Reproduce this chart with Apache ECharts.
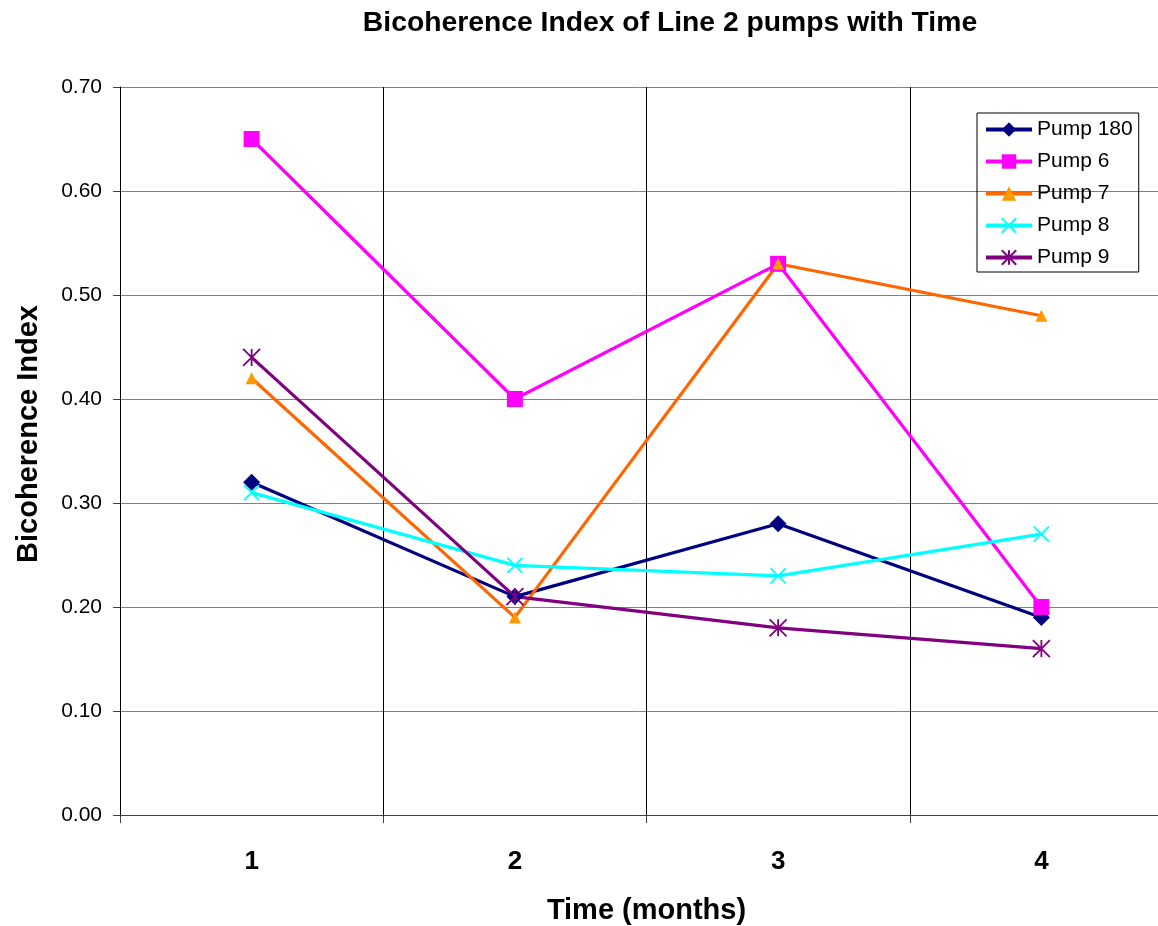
<!DOCTYPE html>
<html><head><meta charset="utf-8">
<script src="https://cdn.jsdelivr.net/npm/echarts@6/dist/echarts.min.js"></script>
<style>html,body{margin:0;padding:0;background:#fff}#c{width:1158px;height:926px}</style>
</head><body><div id="c"></div>
<script>
var categories = ['1', '2', '3', '4'];
var pump180 = [0.32, 0.21, 0.28, 0.19];
var pump6 = [0.65, 0.40, 0.53, 0.20];
var pump7 = [0.42, 0.19, 0.53, 0.48];
var pump8 = [0.31, 0.24, 0.23, 0.27];
var pump9 = [0.44, 0.21, 0.18, 0.16];
var yTicks = { min: 0, max: 0.7, interval: 0.1 };

var F = '"Liberation Sans", Arial, sans-serif';
function s(name, data, color, symbol, size, markerColor, stroke) {
  return {
    name: name, type: 'line', data: data, symbol: symbol, symbolSize: size,
    lineStyle: { color: color, width: 3.2 },
    itemStyle: stroke ? { color: 'rgba(0,0,0,0)', borderColor: markerColor, borderWidth: 1.8 } : { color: markerColor, borderWidth: 0 },
    emphasis: { disabled: true }, animation: false
  };
}
var chart = echarts.init(document.getElementById('c'));
chart.setOption({
  backgroundColor: '#fff',
  animation: false,
  title: { text: 'Bicoherence Index of Line 2 pumps with Time', left: 665, textAlign: 'center', top: 4,
    textStyle: { fontFamily: F, fontWeight: 'bold', fontSize: 28.3, color: '#000' } },
  legend: {
    orient: 'vertical', left: 977, top: 113, width: 160,
    borderColor: '#000', borderWidth: 1, padding: [6, 6, 4, 7], itemGap: 11,
    itemWidth: 46, itemHeight: 18,
    lineStyle: { width: 4 },
    textStyle: { fontFamily: F, fontSize: 21, color: '#000' },
    data: ['Pump 180', 'Pump 6', 'Pump 7', 'Pump 8', 'Pump 9']
  },
  grid: { left: 120, top: 87, width: 1053, height: 728, outerBoundsMode: 'none', containLabel: false },
  xAxis: {
    type: 'category', data: categories, boundaryGap: true,
    name: 'Time (months)', nameLocation: 'middle', nameGap: 81,
    nameTextStyle: { fontFamily: F, fontWeight: 'bold', fontSize: 29, color: '#000' },
    axisLine: { lineStyle: { color: '#404040', width: 1 } },
    axisTick: { show: true, length: 8, lineStyle: { color: '#404040' }, alignWithLabel: false },
    axisLabel: { fontFamily: F, fontWeight: 'bold', fontSize: 26, color: '#000', margin: 34 },
    splitLine: { show: true, lineStyle: { color: '#000', width: 1 } }
  },
  yAxis: {
    type: 'value', min: yTicks.min, max: yTicks.max, interval: yTicks.interval,
    name: 'Bicoherence Index', nameLocation: 'middle', nameGap: 77, nameRotate: 90,
    nameTextStyle: { fontFamily: F, fontWeight: 'bold', fontSize: 29, color: '#000', padding: [0, 0, 0, 34] },
    axisLine: { show: true, lineStyle: { color: '#000', width: 1 } },
    axisTick: { show: true, length: 7, lineStyle: { color: '#404040' } },
    axisLabel: { fontFamily: F, fontSize: 21, color: '#000', margin: 18, formatter: function (v) { return v.toFixed(2); } },
    splitLine: { show: true, lineStyle: { color: '#808080', width: 1 } }
  },
  series: [
    s('Pump 180', pump180, '#000080', 'diamond', 17, '#000080'),
    s('Pump 6', pump6, '#FF00FF', 'rect', 16, '#FF00FF'),
    s('Pump 7', pump7, '#FF6600', 'triangle', 12, '#FF9900'),
    s('Pump 8', pump8, '#00FFFF', 'path://M0,0L10,10M10,0L0,10', 15, '#00FFFF', true),
    s('Pump 9', pump9, '#800080', 'path://M0,0L10,10M10,0L0,10M5,0L5,10', 17, '#800080', true)
  ]
});
</script></body></html>
